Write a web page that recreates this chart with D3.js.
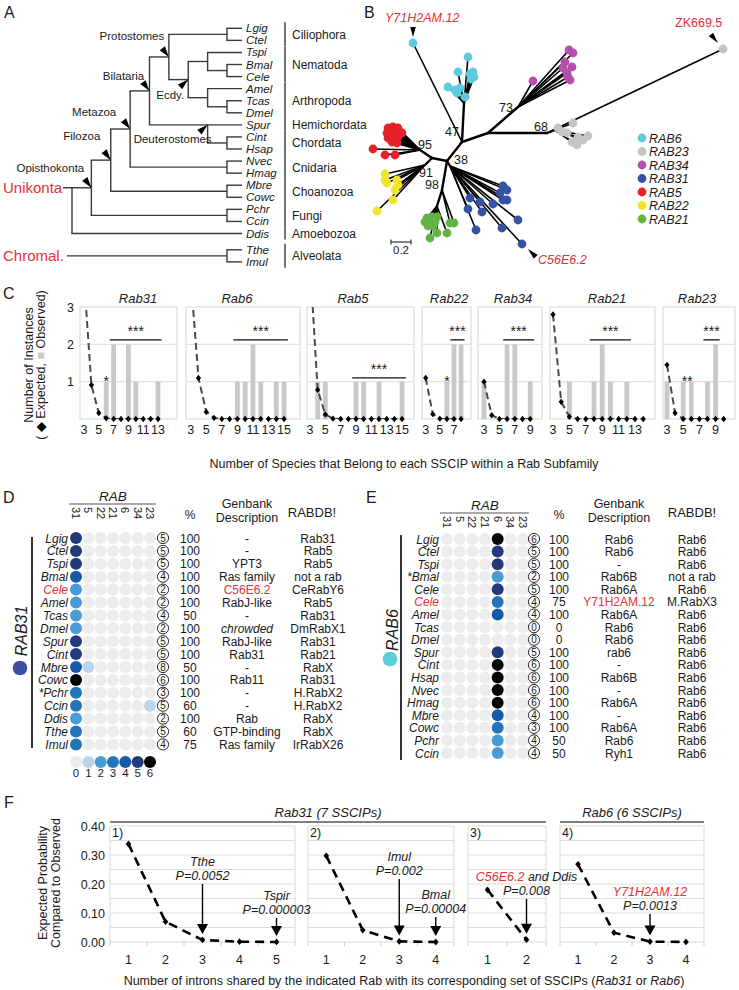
<!DOCTYPE html>
<html><head><meta charset="utf-8">
<script src="https://cdn.jsdelivr.net/npm/d3@7/dist/d3.min.js"></script>
<style>
html,body{margin:0;padding:0;background:#fff;}
svg{display:block;font-family:"Liberation Sans",Arial,Helvetica,sans-serif;}
</style></head><body>
<svg id="fig" width="739" height="990"></svg>
<script>
// ================= DATA =================
// ---- Panel A: species tree ----
const taxaA = ["Lgig","Ctel","Tspi","Bmal","Cele","Amel","Tcas","Dmel","Spur","Cint","Hsap","Nvec","Hmag","Mbre","Cowc","Pchr","Ccin","Ddis","Tthe","Imul"];
const taxaSlotA = [0,1,2,3,4,5,6,7,8,9,10,11,12,13,14,15,16,17,18.35,19.35];
const groupsA = [["Ciliophora","Lgig","Ctel"],["Nematoda","Tspi","Cele"],["Arthropoda","Amel","Dmel"],["Hemichordata","Spur","Spur"],["Chordata","Cint","Hsap"],["Cnidaria","Nvec","Hmag"],["Choanozoa","Mbre","Cowc"],["Fungi","Pchr","Ccin"],["Amoebozoa","Ddis","Ddis"],["Alveolata","Tthe","Imul"]];
const treeA = {name:"Unikonta", level:9, alignFirst:true, children:[
  {name:"Opisthokonta", level:8, children:[
    {name:"Filozoa", level:7, children:[
      {name:"Metazoa", level:6, children:[
        {name:"Bilataria", level:5, children:[
          {name:"Protostomes", level:4, children:[
            {level:1, children:[{tip:"Lgig"},{tip:"Ctel"}]},
            {name:"Ecdy.", level:3, children:[
              {level:2, children:[{tip:"Tspi"},{level:1, children:[{tip:"Bmal"},{tip:"Cele"}]}]},
              {level:2, children:[{tip:"Amel"},{level:1, children:[{tip:"Tcas"},{tip:"Dmel"}]}]}
            ]}
          ]},
          {name:"Deuterostomes", level:2, alignFirst:true, children:[{tip:"Spur"},{level:1, children:[{tip:"Cint"},{tip:"Hsap"}]}]}
        ]},
        {level:1, children:[{tip:"Nvec"},{tip:"Hmag"}]}
      ]},
      {level:1, children:[{tip:"Mbre"},{tip:"Cowc"}]}
    ]},
    {level:1, children:[{tip:"Pchr"},{tip:"Ccin"}]}
  ]},
  {tip:"Ddis"}
]};
const treeChromal = {name:"Chromal.", level:1, children:[{tip:"Tthe"},{tip:"Imul"}]};
const cladeLabelsA = ["Protostomes","Ecdy.","Bilataria","Metazoa","Filozoa","Opisthokonta","Deuterostomes"];

// ---- Panel B: unrooted Rab tree (branch-length units) ----
const rabGroups = ["RAB6","RAB23","RAB34","RAB31","RAB5","RAB22","RAB21"];
const rabColors = ["#5ccbde","#c4c4c4","#b54fae","#3552a5","#e42229","#f1e52c","#63b447"];
const bNodes = [
  {id:"root", p:null, x:0, y:0},
  {id:"n47", p:"root", x:0.15, y:-0.19},
  {id:"n6", p:"n47", x:0.17, y:-0.58},
  {id:"nR", p:"n47", x:0.41, y:-0.28},
  {id:"n73", p:"nR", x:0.71, y:-0.54},
  {id:"n68", p:"nR", x:1.00, y:-0.28},
  {id:"n23", p:"n68", x:1.08, y:-0.31},
  {id:"nL", p:"root", x:-0.15, y:-0.03},
  {id:"n95", p:"nL", x:-0.27, y:-0.11},
  {id:"n91", p:"nL", x:-0.22, y:0.04},
  {id:"n98", p:"root", x:-0.05, y:0.29},
  {id:"n21", p:"n98", x:-0.10, y:0.45},
  {id:"n31", p:"root", x:0.03, y:0.05}
];
// [parent, x, y, group]
const bLeaves = [
  ["n47",-0.34,-1.18,0],["n6",0.21,-1.04,0],["n6",0.11,-0.89,0],["n6",0.01,-0.74,0],["n6",0.08,-0.71,0],["n6",0.13,-0.73,0],
  ["n6",0.10,-0.68,0],["n6",0.23,-0.87,0],["n6",0.27,-0.84,0],["n6",0.24,-0.82,0],["n6",0.26,-0.89,0],["n6",0.18,-0.64,0],
  ["n73",0.86,-0.80,2],["n73",1.22,-1.11,2],["n73",1.26,-1.08,2],["n73",1.18,-0.99,2],["n73",1.25,-0.94,2],["n73",1.16,-0.93,2],
  ["n73",1.21,-0.84,2],["n73",1.23,-0.81,2],["n73",1.20,-0.88,2],
  ["n68",2.76,-1.12,1],["n23",1.11,-0.33,1],["n23",1.15,-0.29,1],["n23",1.26,-0.38,1],["n23",1.31,-0.24,1],["n23",1.41,-0.25,1],
  ["n23",1.30,-0.16,1],["n23",1.25,-0.19,1],["n23",1.36,-0.21,1],["n23",1.20,-0.28,1],
  ["n95",-0.59,-0.33,4],["n95",-0.54,-0.34,4],["n95",-0.49,-0.33,4],["n95",-0.60,-0.28,4],["n95",-0.55,-0.28,4],["n95",-0.50,-0.28,4],
  ["n95",-0.45,-0.28,4],["n95",-0.59,-0.23,4],["n95",-0.54,-0.23,4],["n95",-0.49,-0.24,4],["n95",-0.55,-0.19,4],["n95",-0.50,-0.18,4],
  ["n95",-0.74,-0.12,4],["n95",-0.62,-0.06,4],["n95",-0.52,-0.06,4],
  ["n91",-0.62,0.13,5],["n91",-0.62,0.19,5],["n91",-0.60,0.22,5],["n91",-0.50,0.19,5],["n91",-0.49,0.24,5],["n91",-0.52,0.29,5],
  ["n91",-0.54,0.39,5],["n91",-0.70,0.50,5],
  ["n21",-0.20,0.57,6],["n21",-0.15,0.56,6],["n21",-0.10,0.56,6],["n21",-0.22,0.61,6],["n21",-0.17,0.61,6],["n21",-0.12,0.61,6],
  ["n21",-0.19,0.65,6],["n21",-0.14,0.65,6],["n98",0.03,0.62,6],["n98",0.07,0.62,6],["n21",-0.17,0.77,6],["n21",-0.10,0.72,6],["n21",0.00,0.72,6],
  ["n31",0.56,0.25,3],["n31",0.60,0.29,3],["n31",0.53,0.32,3],["n31",0.56,0.39,3],["n31",0.60,0.39,3],["n31",0.46,0.43,3],
  ["n31",0.23,0.37,3],["n31",0.33,0.41,3],["n31",0.21,0.48,3],["n31",0.35,0.51,3],["n31",0.71,0.59,3],["n31",0.55,0.67,3],
  ["n31",0.29,0.69,3],["n31",0.75,0.83,3]
];
const bBootstrap = [["47",0.05,-0.29],["73",0.59,-0.53],["68",0.94,-0.34],["38",0.14,-0.01],["95",-0.22,-0.16],["91",-0.21,0.12],["98",-0.15,0.24]];
const bNamed = [{name:"Y71H2AM.12", leaf:0}, {name:"ZK669.5", leaf:21}, {name:"C56E6.2", leaf:80}];

// ---- Panel C: expected vs observed ----
const cNames = ["Rab31","Rab6","Rab5","Rab22","Rab34","Rab21","Rab23"];
const rab31Exp = [3.8,0.91,0.16,0.02,0,0,0,0,0,0,0];
const rab6Exp  = [3.8,1.10,0.19,0.03,0,0,0,0,0,0,0,0,0];
const rab5Exp  = [4.2,0.78,0.12,0.01,0,0,0,0,0,0,0,0,0];
const rab22Exp = [1.10,0.13,0.01,0,0,0];
const rab34Exp = [1.00,0.10,0,0,0,0,0];
const rab21Exp = [2.80,0.46,0.06,0,0,0,0,0,0,0,0,0];
const rab23Exp = [1.45,0.16,0,0,0,0,0,0];
const rab31Obs = [[6,1],[7,2],[9,2],[10,1],[13,1]];
const rab6Obs  = [[9,1],[10,1],[11,2],[12,1],[14,1],[15,1]];
const rab5Obs  = [[4,1],[5,1],[9,1],[10,1],[12,1],[15,1]];
const rab22Obs = [[6,1],[7,2],[8,2]];
const rab34Obs = [[3,1],[6,2],[7,2],[9,1]];
const rab21Obs = [[5,1],[8,1],[9,2],[10,1],[12,1]];
const rab23Obs = [[3,1],[5,1],[6,1],[8,1],[9,2]];
const cTicks = [[3,5,7,9,11,13],[3,5,7,9,11,13,15],[3,5,7,9,11,13,15],[3,5,7],[3,5,7,9],[3,5,7,9,11,13],[3,5,7,9]];
const cYTicks = [1,2,3];
const cSigRange = [[7,13],[9,15],[9,15],[7,8],[6,9],[8,12],[8,9]];
const cSigLevel = [2.12,2.12,1.1,2.12,2.12,2.12,2.12];
const cMarks = [{panel:0,x:6,y:1,t:"*"},{panel:3,x:6,y:1,t:"*"},{panel:6,x:5.5,y:1,t:"**"}];

// ---- Panels D / E ----
const rabCols = ["31","5","22","21","6","34","23"];
const intronLevels = [0,1,2,3,4,5,6];
const intronColors = ["#ececec","#b9d5ec","#4a9bd3","#2474ba","#155aa6","#233a7a","#050505"];
const dTaxa = ["Lgig","Ctel","Tspi","Bmal","Cele","Amel","Tcas","Dmel","Spur","Cint","Mbre","Cowc","*Pchr","Ccin","Ddis","Tthe","Imul"];
const dRab31 = [5,5,5,4,2,2,2,2,5,5,4,6,3,3,2,3,3];
const dExtra = [[10,1,1],[13,6,1]];
const dTotal = [5,5,5,4,2,2,4,2,5,5,8,6,3,5,2,5,4];
const dPct = [100,100,100,100,100,100,50,100,100,100,50,100,100,60,100,60,75];
const dGenbank = ["-","-","YPT3","Ras family","C56E6.2","RabJ-like","-","chrowded","RabJ-like","Rab31","-","Rab11","-","-","Rab","GTP-binding","Ras family"];
const dRabdb = ["Rab31","Rab5","Rab5","not a rab","CeRabY6","Rab5","Rab31","DmRabX1","Rab31","Rab21","RabX","Rab31","H.RabX2","H.RabX2","RabX","RabX","IrRabX26"];
const eTaxa = ["Lgig","Ctel","Tspi","*Bmal","Cele","Cele","Amel","Tcas","Dmel","Spur","Cint","Hsap","Nvec","Hmag","Mbre","Cowc","Pchr","Ccin"];
const eRab6 = [6,5,5,2,5,3,4,0,0,5,6,6,6,6,4,3,2,2];
const eTotal = [6,5,5,2,5,4,4,0,0,5,6,6,6,6,4,3,4,4];
const ePct = [100,100,100,100,100,75,100,0,0,100,100,100,100,100,100,100,50,50];
const eGenbank = ["Rab6","Rab6","-","Rab6B","Rab6A","Y71H2AM.12","Rab6A","Rab6","Rab6","rab6","-","Rab6B","-","Rab6A","-","Rab6A","Rab6","Ryh1"];
const eRabdb = ["Rab6","Rab6","Rab6","not a rab","Rab6","M.RabX3","Rab6","Rab6","Rab6","Rab6","Rab6","Rab6","Rab6","Rab6","Rab6","Rab6","Rab6","Rab6"];

// ---- Panel F ----
const fLabels = ["1)","2)","3)","4)"];
const f1 = [0.338,0.070,0.007,0.001,0.0001];
const f2 = [0.297,0.041,0.002,0.00004];
const f3 = [0.180,0.008];
const f4 = [0.268,0.032,0.0013,0.0001];
const fYTicks = [0,0.1,0.2,0.3,0.4];
const fAnn = [
  {panel:0, x:3, name:"Tthe", p:"P=0.0052"},
  {panel:0, x:5, name:"Tspir", p:"P=0.000003"},
  {panel:1, x:3, name:"Imul", p:"P=0.002"},
  {panel:1, x:4, name:"Bmal", p:"P=0.00004"},
  {panel:2, x:2, name:"C56E6.2", extra:" and Ddis", p:"P=0.008", red:true},
  {panel:3, x:3, name:"Y71H2AM.12", p:"P=0.0013", red:true}
];
const fGroups = [["Rab31 (7 SSCIPs)",0,2],["Rab6 (6 SSCIPs)",3,3]];

// ================= DRAWING =================
const RED = "#e3303a";
const svg = d3.select("#fig");
function T(parent, x, y, s, o = {}) {
  const t = parent.append("text").attr("x", x).attr("y", y).text(s);
  t.attr("font-size", o.size || 12);
  if (o.anchor) t.attr("text-anchor", o.anchor);
  if (o.italic) t.attr("font-style", "italic");
  t.attr("fill", o.fill || "#1a1a1a");
  return t;
}
function tri(g, tipX, tipY, dx, dy, len, hw) {
  const bx = tipX - dx*len, byy = tipY - dy*len;
  const px = -dy, py = dx;
  g.append("path").attr("d", `M${tipX},${tipY}L${bx+px*hw},${byy+py*hw}L${bx-px*hw},${byy-py*hw}Z`).attr("fill","#000");
}

// panel letters
[["A",4,18],["B",364,18],["C",3,299],["D",3,503],["E",366,503],["F",4,808]].forEach(d=>T(svg,d[1],d[2],d[0],{size:16}));

// ---------- Panel A ----------
(function(){
  const g = svg.append("g");
  const rowA = d3.scaleLinear().domain([0,17]).range([28.3,233.5]);
  const lvlX = d3.scaleLinear().domain([0,1,9]).range([242,227,72]);
  const stroke = "#3a3a3a";
  function layout(root){
    root.eachAfter(n=>{
      if(!n.children){ n.px = lvlX(0); n.py = rowA(taxaSlotA[taxaA.indexOf(n.data.tip)]); }
      else { n.px = lvlX(n.data.level); const ys = n.children.map(c=>c.py); n.py = n.data.alignFirst ? ys[0] : (d3.min(ys)+d3.max(ys))/2; }
    });
  }
  function draw(root){
    root.each(n=>{
      if(!n.children) return;
      const ys = n.children.map(c=>c.py);
      g.append("line").attr("x1",n.px).attr("x2",n.px).attr("y1",d3.min(ys)).attr("y2",d3.max(ys)).attr("stroke",stroke).attr("stroke-width",1.4);
      n.children.forEach(c=>g.append("line").attr("x1",n.px-0.7).attr("x2",c.px).attr("y1",c.py).attr("y2",c.py).attr("stroke",stroke).attr("stroke-width",1.4));
    });
    root.leaves().forEach(l=>T(g,l.px+4,l.py+4,l.data.tip,{size:11.5,italic:true}));
  }
  const rA = d3.hierarchy(treeA); layout(rA); draw(rA);
  const rC = d3.hierarchy(treeChromal); layout(rC); draw(rC);
  g.append("line").attr("x1",63).attr("x2",rA.px).attr("y1",rA.py).attr("y2",rA.py).attr("stroke",stroke).attr("stroke-width",1.4);
  g.append("line").attr("x1",67).attr("x2",rC.px).attr("y1",rC.py).attr("y2",rC.py).attr("stroke",stroke).attr("stroke-width",1.4);
  T(g,3,rA.py+5,"Unikonta",{size:15,fill:RED});
  T(g,3,rC.py+5,"Chromal.",{size:15,fill:RED});
  const off = {"Protostomes":[-37,-17,0.6,0.8],"Ecdy.":[-18,19,0.75,-0.66],"Bilataria":[-26,-11,0.6,0.8],"Metazoa":[-36,-13,0.6,0.8],
    "Filozoa":[-29,-20,0.6,0.8],"Opisthokonta":[-41,-16,0.6,0.8],"Deuterostomes":[-35,18,0.75,-0.66]};
  rA.each(n=>{
    if(n.data.name && cladeLabelsA.includes(n.data.name)){
      const o = off[n.data.name];
      T(g,n.px+o[0],n.py+o[1],n.data.name,{size:11.5,anchor:"middle"});
      tri(g,n.px,n.py,o[2],o[3],11,3.3);
    }
  });
  const yOf = t=>rowA(taxaSlotA[taxaA.indexOf(t)]);
  groupsA.forEach(gr=>{
    const y1 = yOf(gr[1]), y2 = yOf(gr[2]);
    g.append("line").attr("x1",285).attr("x2",285).attr("y1",y1-6).attr("y2",y2+6).attr("stroke","#444").attr("stroke-width",1.5);
    T(g,292,(y1+y2)/2+4.5,gr[0],{size:12});
  });
})();

// ---------- Panel B ----------
(function(){
  const g = svg.append("g");
  const bx = d3.scaleLinear().domain([0,1]).range([447,547]);
  const by = d3.scaleLinear().domain([0,1]).range([161,261]);
  const nm = new Map(bNodes.map(n=>[n.id,n]));
  bLeaves.forEach(l=>{
    const p = nm.get(l[0]);
    g.append("line").attr("x1",bx(p.x)).attr("y1",by(p.y)).attr("x2",bx(l[1])).attr("y2",by(l[2])).attr("stroke","#000").attr("stroke-width",1.6);
  });
  bNodes.forEach(n=>{
    if(!n.p) return; const p = nm.get(n.p);
    g.append("line").attr("x1",bx(p.x)).attr("y1",by(p.y)).attr("x2",bx(n.x)).attr("y2",by(n.y)).attr("stroke","#000").attr("stroke-width",2.4).attr("stroke-linecap","round");
  });
  g.selectAll("circle.leaf").data(bLeaves).join("circle").attr("cx",d=>bx(d[1])).attr("cy",d=>by(d[2])).attr("r",4.4).attr("fill",d=>rabColors[d[3]]);
  bBootstrap.forEach(b=>T(g,bx(b[1]),by(b[2]),b[0],{size:12.5,anchor:"middle"}).attr("dy","0.35em"));
  const nY = bLeaves[bNamed[0].leaf], nZ = bLeaves[bNamed[1].leaf], nC = bLeaves[bNamed[2].leaf];
  tri(g,bx(nY[1]),by(nY[2])-6,0,1,10,2.8);
  T(g,bx(nY[1])-28,by(nY[2])-21,bNamed[0].name,{size:12.5,italic:true,fill:RED});
  tri(g,bx(nZ[1])-5,by(nZ[2])-6,0.64,0.77,11,2.8);
  T(g,bx(nZ[1])-48,by(nZ[2])-22,bNamed[1].name,{size:12.5,fill:RED});
  tri(g,bx(nC[1])+6,by(nC[2])+5,-0.7,-0.7,11,2.8);
  T(g,bx(nC[1])+16,by(nC[2])+20,bNamed[2].name,{size:12.5,italic:true,fill:RED});
  const s0 = bx(-0.56), s1 = bx(-0.56+0.2);
  g.append("line").attr("x1",s0).attr("x2",s1).attr("y1",242).attr("y2",242).attr("stroke","#333").attr("stroke-width",1.2);
  [s0,s1].forEach(x=>g.append("line").attr("x1",x).attr("x2",x).attr("y1",239.5).attr("y2",244.5).attr("stroke","#333").attr("stroke-width",1.2));
  T(g,(s0+s1)/2,254,"0.2",{size:11.5,anchor:"middle"});
  rabGroups.forEach((r,i)=>{
    const y = 138 + i*13.5;
    g.append("circle").attr("cx",642).attr("cy",y).attr("r",4.4).attr("fill",rabColors[i]);
    T(g,649,y+4.5,r,{size:12.5,italic:true});
  });
})();

// ---------- Panel C ----------
(function(){
  const g = svg.append("g");
  const exps = [rab31Exp,rab6Exp,rab5Exp,rab22Exp,rab34Exp,rab21Exp,rab23Exp];
  const obss = [rab31Obs,rab6Obs,rab5Obs,rab22Obs,rab34Obs,rab21Obs,rab23Obs];
  const lay = [[80,177,84,7.4,138],[186,300,190.7,7.78,237],[307,414,310,7.67,353],[422,471,425.7,7.07,449],[478,542,484,7.7,513],[550,655,553,8.2,607],[663,735,667,8.1,697]];
  const y = d3.scaleLinear().domain([0,3]).range([419,307]);
  const diamond = "M0,-3.2L2.6,0L0,3.2L-2.6,0Z";
  cNames.forEach((name,i)=>{
    const L = lay[i];
    const x = d3.scaleLinear().domain([3,4]).range([L[2],L[2]+L[3]]);
    const p = g.append("g");
    p.append("clipPath").attr("id","cc"+i).append("rect").attr("x",L[0]).attr("y",y(3)).attr("width",L[1]-L[0]).attr("height",y(0)-y(3));
    p.append("rect").attr("x",L[0]).attr("y",y(3)).attr("width",L[1]-L[0]).attr("height",y(0)-y(3)).attr("fill","none").attr("stroke","#dcdcdc").attr("stroke-width",1.2);
    cYTicks.slice(0,2).forEach(t=>p.append("line").attr("x1",L[0]).attr("x2",L[1]).attr("y1",y(t)).attr("y2",y(t)).attr("stroke","#e2e2e2").attr("stroke-width",1.2));
    p.selectAll("rect.bar").data(obss[i]).join("rect").attr("x",d=>x(d[0])-2.4).attr("width",4.8).attr("y",d=>y(d[1])).attr("height",d=>y(0)-y(d[1])).attr("fill","#c9c9c9");
    const pts = exps[i].map((v,k)=>[3+k,v]);
    p.append("path").attr("clip-path",`url(#cc${i})`).attr("d",d3.line().x(d=>x(d[0])).y(d=>y(d[1]))(pts))
      .attr("fill","none").attr("stroke","#4a4a4a").attr("stroke-width",2).attr("stroke-dasharray","7,4");
    p.selectAll("path.dm").data(pts.filter(d=>d[1]<=3)).join("path").attr("d",diamond).attr("transform",d=>`translate(${x(d[0])},${y(d[1])})`).attr("fill","#000");
    cTicks[i].forEach(t=>T(p,x(t),434,t,{size:12.5,anchor:"middle"}));
    T(p,L[4],303,name,{size:13,italic:true,anchor:"middle"});
    const sr = cSigRange[i];
    p.append("line").attr("x1",x(sr[0]-0.5)).attr("x2",x(sr[1]+0.5)).attr("y1",y(cSigLevel[i])).attr("y2",y(cSigLevel[i])).attr("stroke","#111").attr("stroke-width",1.3);
    T(p,(x(sr[0]-0.5)+x(sr[1]+0.5))/2,y(cSigLevel[i])-4,"***",{size:14,anchor:"middle"});
    cMarks.filter(m=>m.panel===i).forEach(m=>T(p,x(m.x),y(m.y)+4,m.t,{size:14,anchor:"middle"}));
    if(i===0) cYTicks.forEach(t=>T(p,74,y(t)+4.5,t,{size:12.5,anchor:"end"}));
  });
  T(g,0,0,"Number of Instances",{size:12.5,anchor:"middle"}).attr("transform","translate(32.5,365) rotate(-90)");
  const t2 = g.append("text").attr("transform","translate(45,365) rotate(-90)").attr("text-anchor","middle").attr("font-size",12.5).attr("fill","#1a1a1a");
  t2.append("tspan").text("( ");
  t2.append("tspan").text("◆").attr("fill","#000");
  t2.append("tspan").text(" Expected, ");
  t2.append("tspan").text("■").attr("fill","#c9c9c9");
  t2.append("tspan").text(" Observed)");
  T(g,404,468,"Number of Species that Belong to each SSCIP within a Rab Subfamily",{size:12.5,anchor:"middle"});
})();

// ---------- Panels D & E ----------
function drawTable(o){
  const g = svg.append("g");
  const yS = d3.scalePoint().domain(d3.range(o.taxa.length)).range(o.yRange);
  const xS = d3.scalePoint().domain(rabCols).range(o.colRange);
  const col = d3.scaleOrdinal().domain(intronLevels).range(intronColors);
  T(g,(o.colRange[0]+o.colRange[1])/2,o.headY,"RAB",{size:13.5,italic:true,anchor:"middle"});
  g.append("line").attr("x1",o.colRange[0]-7).attr("x2",o.colRange[1]+6).attr("y1",o.headY+3).attr("y2",o.headY+3).attr("stroke","#555").attr("stroke-width",1.2);
  rabCols.forEach(c=>g.append("text").attr("transform",`translate(${xS(c)},${o.headY+6}) rotate(90)`).attr("dy","0.35em").attr("font-size",11).attr("fill","#1a1a1a").text(c));
  T(g,o.pctX,519,"%",{size:12,anchor:"middle"});
  T(g,o.gbX,507.5,"Genbank",{size:12.5,anchor:"middle"});
  T(g,o.gbX,521.5,"Description",{size:12.5,anchor:"middle"});
  T(g,o.dbHX,517,"RABDB!",{size:13,anchor:"middle"});
  g.append("line").attr("x1",o.barX).attr("x2",o.barX).attr("y1",o.barY[0]).attr("y2",o.barY[1]).attr("stroke","#333").attr("stroke-width",2);
  o.taxa.forEach((t,i)=>{
    const y = yS(i);
    const red = o.redRows.includes(i);
    T(g,o.labelX,y+4.5,t,{size:12,italic:true,anchor:"end",fill:red?RED:"#1a1a1a"});
    o.matrix[i].forEach((v,j)=>g.append("circle").attr("cx",xS(rabCols[j])).attr("cy",y).attr("r",6).attr("fill",col(v)));
    g.append("circle").attr("cx",o.circX).attr("cy",y).attr("r",5.6).attr("fill","#fff").attr("stroke","#111").attr("stroke-width",0.9);
    T(g,o.circX,y+3.6,o.total[i],{size:10,anchor:"middle"});
    T(g,o.pctX,y+4.5,o.pct[i],{size:12,anchor:"middle"});
    T(g,o.gbX,y+4.5,o.gb[i],{size:12,anchor:"middle",fill:red?RED:"#1a1a1a",italic:o.gb[i]==="chrowded"});
    T(g,o.dbX,y+4.5,o.db[i],{size:12,anchor:"middle"});
  });
  g.append("text").attr("transform",`translate(${o.rabLbl[0]+5.5},${o.rabLbl[1]}) rotate(-90)`).attr("text-anchor","middle").attr("font-size",16).attr("font-style","italic").attr("fill","#1a1a1a").text(o.rabName);
  g.append("circle").attr("cx",o.rabDot[0]).attr("cy",o.rabDot[1]).attr("r",7.3).attr("fill",o.rabColor);
  if(o.legend){
    intronLevels.forEach((v,k)=>{
      const x = xS(rabCols[k]);
      g.append("circle").attr("cx",x).attr("cy",762).attr("r",6).attr("fill",col(v));
      T(g,x,777,v,{size:11.5,anchor:"middle"});
    });
  }
}
const dMatrix = dRab31.map(v=>[v,0,0,0,0,0,0]);
dExtra.forEach(e=>dMatrix[e[0]][e[1]] = e[2]);
drawTable({taxa:dTaxa, matrix:dMatrix, total:dTotal, pct:dPct, gb:dGenbank, db:dRabdb, redRows:[4],
  yRange:[538,744.4], colRange:[76,150], headY:501, labelX:68, circX:163, pctX:190, gbX:247, dbX:318, dbHX:312,
  barX:32, barY:[537,748], rabName:"RAB31", rabLbl:[21,631], rabDot:[20,668], rabColor:"#3d4fa3", legend:true});
const eMatrix = eRab6.map(v=>[0,0,0,0,v,0,0]);
drawTable({taxa:eTaxa, matrix:eMatrix, total:eTotal, pct:ePct, gb:eGenbank, db:eRabdb, redRows:[5],
  yRange:[539,753], colRange:[447,523], headY:510, labelX:439, circX:534, pctX:559, gbX:619, dbX:692, dbHX:692,
  barX:401, barY:[535,760], rabName:"RAB6", rabLbl:[392,630], rabDot:[390,659], rabColor:"#5ccbde", legend:false});

// ---------- Panel F ----------
(function(){
  const g = svg.append("g");
  const vals = [f1,f2,f3,f4];
  const lay = [[110,295],[308,454],[468,546],[560,704]];
  const y = d3.scaleLinear().domain([0,0.4]).range([942,826]);
  const grid = d3.range(0,0.4001,0.05);
  const xs = [];
  vals.forEach((v,i)=>{
    const L = lay[i];
    const x = d3.scalePoint().domain(d3.range(1,v.length+1)).range(L).padding(0.5);
    xs.push(x);
    grid.forEach(t=>g.append("line").attr("x1",L[0]).attr("x2",L[1]).attr("y1",y(t)).attr("y2",y(t)).attr("stroke","#dcdcdc").attr("stroke-width",1.1));
    [L[0],L[1]].forEach(xx=>g.append("line").attr("x1",xx).attr("x2",xx).attr("y1",y(0.4)).attr("y2",y(0)).attr("stroke","#dcdcdc").attr("stroke-width",1.1));
    const step = x.step();
    d3.range(v.length+1).forEach(k=>g.append("line").attr("x1",L[0]+k*step).attr("x2",L[0]+k*step).attr("y1",y(0)).attr("y2",y(0)+4).attr("stroke","#cfcfcf"));
    T(g,L[0]+2,837,fLabels[i],{size:12.5});
    const pts = v.map((d,k)=>[k+1,d]);
    g.append("path").attr("d",d3.line().x(d=>x(d[0])).y(d=>y(d[1]))(pts)).attr("fill","none").attr("stroke","#000").attr("stroke-width",2.6).attr("stroke-dasharray","9,6");
    g.selectAll(null).data(pts).join("path").attr("d","M0,-3.4L2.8,0L0,3.4L-2.8,0Z").attr("transform",d=>`translate(${x(d[0])},${y(d[1])})`).attr("fill","#000");
    x.domain().forEach(k=>T(g,x(k),964,k,{size:12.5,anchor:"middle"}));
  });
  fYTicks.forEach(t=>T(g,105,y(t)+4.5,t.toFixed(2),{size:12.5,anchor:"end"}));
  fGroups.forEach(gr=>{
    const x0 = lay[gr[1]][0], x1 = lay[gr[2]][1];
    g.append("line").attr("x1",x0).attr("x2",x1).attr("y1",822).attr("y2",822).attr("stroke","#555").attr("stroke-width",1.6);
  });
  T(g,328,817,fGroups[0][0],{size:13,italic:true,anchor:"middle"});
  T(g,632,817,fGroups[1][0],{size:13,italic:true,anchor:"middle"});
  const nameY = [866,900,861,899,881,896];
  fAnn.forEach((a,i)=>{
    const x = xs[a.panel](a.x);
    const v = vals[a.panel][a.x-1];
    const t = g.append("text").attr("x",x).attr("y",nameY[i]).attr("text-anchor","middle").attr("font-size",12.5).attr("font-style","italic");
    t.append("tspan").text(a.name).attr("fill",a.red?RED:"#1a1a1a");
    if(a.extra) t.append("tspan").text(a.extra).attr("fill","#1a1a1a");
    T(g,x,nameY[i]+14,a.p,{size:12.5,italic:true,anchor:"middle"});
    const tip = y(v)-6;
    g.append("line").attr("x1",x).attr("x2",x).attr("y1",nameY[i]+18).attr("y2",tip-8).attr("stroke","#000").attr("stroke-width",1.4);
    tri(g,x,tip,0,1,10,5.5);
  });
  T(g,0,0,"Expected Probability",{size:12.5,anchor:"middle"}).attr("transform","translate(46.5,883) rotate(-90)");
  T(g,0,0,"Compared to Observed",{size:12.5,anchor:"middle"}).attr("transform","translate(59.5,883) rotate(-90)");
  const xt = g.append("text").attr("x",404).attr("y",985).attr("text-anchor","middle").attr("font-size",12.5).attr("fill","#1a1a1a");
  xt.append("tspan").text("Number of introns shared by the indicated Rab with its corresponding set of SSCIPs (");
  xt.append("tspan").text("Rab31").attr("font-style","italic");
  xt.append("tspan").text(" or ");
  xt.append("tspan").text("Rab6").attr("font-style","italic");
  xt.append("tspan").text(")");
})();
</script>
</body></html>
